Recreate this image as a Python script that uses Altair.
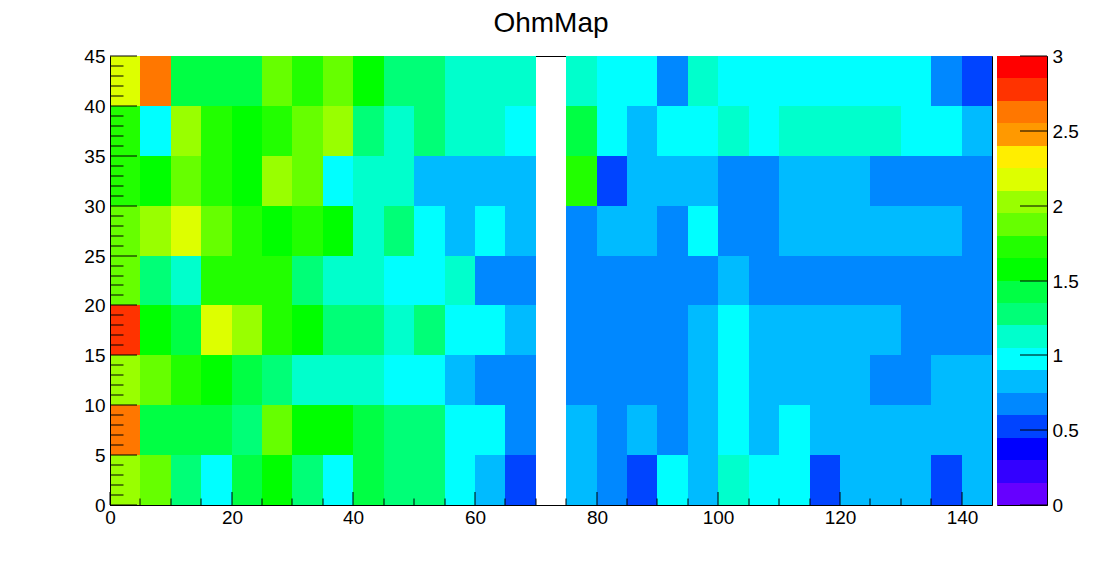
import altair as alt
import pandas as pd

FONT = "Liberation Sans"

title_text = "OhmMap"
bin_size = 5
x_starts = list(range(0, 145, 5))
y_starts = [40, 35, 30, 25, 20, 15, 10, 5, 0]

row_40 = [2.18, 2.63, 1.43, 1.43, 1.43, 1.88, 1.73, 1.88, 1.58, 1.28, 1.28, 1.13, 1.13, 1.13, None, 1.13, 0.98, 0.98, 0.68, 1.13, 0.98, 0.98, 0.98, 0.98, 0.98, 0.98, 0.98, 0.68, 0.53]
row_35 = [1.73, 0.98, 2.03, 1.73, 1.58, 1.73, 1.88, 2.03, 1.28, 1.13, 1.28, 1.13, 1.13, 0.98, None, 1.43, 0.98, 0.83, 0.98, 0.98, 1.13, 0.98, 1.13, 1.13, 1.13, 1.13, 0.98, 0.98, 0.83]
row_30 = [1.73, 1.58, 1.88, 1.73, 1.58, 2.03, 1.88, 0.98, 1.13, 1.13, 0.83, 0.83, 0.83, 0.83, None, 1.73, 0.53, 0.83, 0.83, 0.83, 0.68, 0.68, 0.83, 0.83, 0.83, 0.68, 0.68, 0.68, 0.68]
row_25 = [1.88, 2.03, 2.18, 1.88, 1.73, 1.58, 1.73, 1.58, 1.13, 1.28, 0.98, 0.83, 0.98, 0.83, None, 0.68, 0.83, 0.83, 0.68, 0.98, 0.68, 0.68, 0.83, 0.83, 0.83, 0.83, 0.83, 0.83, 0.68]
row_20 = [1.88, 1.28, 1.13, 1.73, 1.73, 1.73, 1.28, 1.13, 1.13, 0.98, 0.98, 1.13, 0.68, 0.68, None, 0.68, 0.68, 0.68, 0.68, 0.68, 0.83, 0.68, 0.68, 0.68, 0.68, 0.68, 0.68, 0.68, 0.68]
row_15 = [2.78, 1.58, 1.43, 2.18, 2.03, 1.73, 1.58, 1.28, 1.28, 1.13, 1.28, 0.98, 0.98, 0.83, None, 0.68, 0.68, 0.68, 0.68, 0.83, 0.98, 0.83, 0.83, 0.83, 0.83, 0.83, 0.68, 0.68, 0.68]
row_10 = [2.03, 1.88, 1.73, 1.58, 1.43, 1.28, 1.13, 1.13, 1.13, 0.98, 0.98, 0.83, 0.68, 0.68, None, 0.68, 0.68, 0.68, 0.68, 0.83, 0.98, 0.83, 0.83, 0.83, 0.83, 0.68, 0.68, 0.83, 0.83]
row_05 = [2.63, 1.43, 1.43, 1.43, 1.28, 1.88, 1.58, 1.58, 1.43, 1.28, 1.28, 0.98, 0.98, 0.68, None, 0.83, 0.68, 0.83, 0.68, 0.83, 0.98, 0.83, 0.98, 0.83, 0.83, 0.83, 0.83, 0.83, 0.83]
row_00 = [2.03, 1.88, 1.28, 0.98, 1.43, 1.58, 1.28, 0.98, 1.43, 1.28, 1.28, 0.98, 0.83, 0.53, None, 0.83, 0.68, 0.53, 0.98, 0.83, 1.13, 0.98, 0.98, 0.53, 0.83, 0.83, 0.83, 0.53, 0.83]
rows = [row_40, row_35, row_30, row_25, row_20, row_15, row_10, row_05, row_00]

level_edges = [0.15, 0.30, 0.45, 0.60, 0.75, 0.90, 1.05, 1.20, 1.35, 1.50,
               1.65, 1.80, 1.95, 2.10, 2.25, 2.40, 2.55, 2.70, 2.85]
palette = ["#6600ff", "#3300ff", "#0000ff", "#0044ff", "#0088ff", "#00bbff", "#00ffff",
           "#00ffcc", "#00ff77", "#00ff44", "#00ff00", "#22ff00", "#66ff00", "#99ff00",
           "#ddff00", "#ffee00", "#ff9900", "#ff7700", "#ff3300", "#ff0000"]

x_labels = [0, 20, 40, 60, 80, 100, 120, 140]
x_minor = [5, 10, 15, 25, 30, 35, 45, 50, 55, 65, 70, 75, 85, 90, 95, 105, 110, 115, 125, 130, 135]
y_labels = [0, 5, 10, 15, 20, 25, 30, 35, 40, 45]
y_minor = [1, 2, 3, 4, 6, 7, 8, 9, 11, 12, 13, 14, 16, 17, 18, 19, 21, 22, 23, 24,
           26, 27, 28, 29, 31, 32, 33, 34, 36, 37, 38, 39, 41, 42, 43, 44]
bar_labels = [0, 0.5, 1, 1.5, 2, 2.5, 3]

PW, PH = 882, 449
BW = 50

cells = pd.DataFrame(
    [
        {"x0": x, "x1": x + bin_size, "y0": y, "y1": y + bin_size, "v": v}
        for y, row in zip(y_starts, rows)
        for x, v in zip(x_starts, row)
        if v is not None
    ]
)

color_scale = alt.Scale(type="threshold", domain=level_edges, range=palette)
x_scale = alt.Scale(domain=[0, 145], nice=False, zero=False, round=True)
y_scale = alt.Scale(domain=[0, 45], nice=False, zero=False, round=True)
bar_scale = alt.Scale(domain=[0, 3], nice=False, zero=False, round=True)

axis_common = dict(
    ticks=False,
    grid=False,
    domain=True,
    domainColor="black",
    domainWidth=1,
    labelFont=FONT,
    labelFontSize=19,
    labelColor="black",
    labelOverlap=False,
    labelFlush=False,
    title=None,
    zindex=1,
)
x_axis = alt.Axis(values=x_labels, labelPadding=3, **axis_common)
y_axis = alt.Axis(values=y_labels, labelPadding=5, **axis_common)
bar_axis = alt.Axis(orient="right", values=bar_labels, labelPadding=5, format="~g", **axis_common)

heat = (
    alt.Chart(cells)
    .mark_rect(strokeWidth=0, opacity=1)
    .encode(
        x=alt.X("x0:Q", scale=x_scale, axis=x_axis),
        x2="x1:Q",
        y=alt.Y("y0:Q", scale=y_scale, axis=y_axis),
        y2="y1:Q",
        color=alt.Color("v:Q", scale=color_scale, legend=None),
    )
)


def x_ticks(values, length):
    return (
        alt.Chart(pd.DataFrame({"t": values}))
        .mark_rule(color="black", strokeWidth=1)
        .encode(
            x=alt.X("t:Q", scale=x_scale, axis=x_axis),
            y=alt.value(PH),
            y2=alt.value(PH - length),
        )
    )


def y_ticks(values, length):
    return (
        alt.Chart(pd.DataFrame({"t": values}))
        .mark_rule(color="black", strokeWidth=1)
        .encode(
            y=alt.Y("t:Q", scale=y_scale, axis=y_axis),
            x=alt.value(0),
            x2=alt.value(length),
        )
    )


main = alt.layer(
    heat,
    x_ticks(x_labels, 13),
    x_ticks(x_minor, 6.5),
    y_ticks(y_labels, 27),
    y_ticks(y_minor, 13.5),
).properties(
    width=PW,
    height=PH,
    title=alt.TitleParams(
        title_text,
        font=FONT,
        fontSize=28,
        fontWeight="normal",
        color="black",
        anchor="middle",
        offset=5,
        dy=-4,
    ),
)

bands = pd.DataFrame(
    {
        "lo": [0.0] + level_edges,
        "hi": level_edges + [3.0],
    }
)
bands["mid"] = (bands["lo"] + bands["hi"]) / 2

bar_rect = (
    alt.Chart(bands)
    .mark_rect(strokeWidth=0, opacity=1)
    .encode(
        x=alt.value(0),
        x2=alt.value(BW),
        y=alt.Y("lo:Q", scale=bar_scale, axis=bar_axis),
        y2="hi:Q",
        color=alt.Color("mid:Q", scale=color_scale, legend=None),
    )
)
bar_ticks = (
    alt.Chart(pd.DataFrame({"t": bar_labels}))
    .mark_rule(color="black", strokeWidth=1)
    .encode(
        y=alt.Y("t:Q", scale=bar_scale, axis=bar_axis),
        x=alt.value(BW),
        x2=alt.value(BW - 27),
    )
)
bar = alt.layer(bar_rect, bar_ticks).properties(width=BW, height=PH)

chart = (
    alt.hconcat(main, bar, spacing=3)
    .resolve_scale(color="independent")
    .configure_view(stroke="black", strokeWidth=1)
    .properties(background="white", padding={"left": 75, "top": 1, "right": 0, "bottom": 0})
)

chart.save("out.html", embed_options={"renderer": "svg", "actions": False})
